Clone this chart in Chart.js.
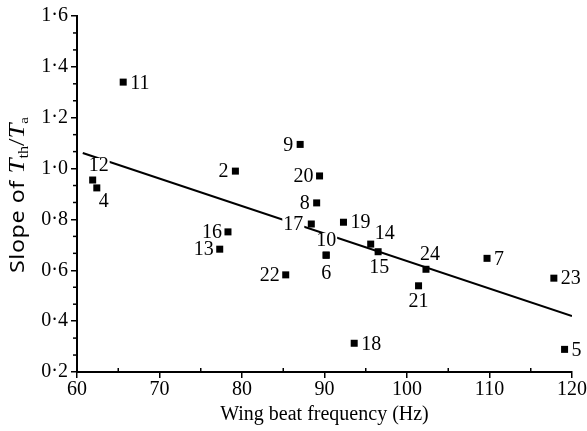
<!DOCTYPE html>
<html lang="en">
<head>
  <meta charset="UTF-8">
  <title>Slope of Tth/Ta vs wing beat frequency</title>
  <script src="https://cdn.jsdelivr.net/npm/chart.js"></script>
  <style>
    body { margin: 0; background: #fff; }
    #wrap { width: 587px; height: 431px; }
  </style>
</head>
<body>
  <div id="wrap"><canvas id="chart"></canvas></div>

  <script>
    // species numbers, wing beat frequency (Hz), slope of Tth/Ta
    const ids   = ['2', '4', '5', '6', '7', '8', '9', '10', '11', '12', '13', '14', '15', '16', '17', '18', '19', '20', '21', '22', '23', '24'];
    const freq  = [79.2, 62.4, 119.1, 90.2, 109.7, 89.05, 87.05, 90.2, 65.6, 61.9, 77.3, 95.6, 96.5, 78.3, 88.4, 93.6, 92.3, 89.4, 101.4, 85.3, 117.8, 102.3];
    const slope = [0.99, 0.924, 0.289, 0.659, 0.647, 0.865, 1.095, 0.66, 1.34, 0.955, 0.683, 0.703, 0.673, 0.751, 0.782, 0.313, 0.789, 0.971, 0.539, 0.582, 0.569, 0.604];

    // regression line end points
    const fitX = [60.7, 120];
    const fitY = [1.061, 0.42];

    const xTicks = [60, 70, 80, 90, 100, 110, 120];
    const yTicks = [0.2, 0.4, 0.6, 0.8, 1.0, 1.2, 1.4, 1.6];

    const FONT = '"Liberation Serif", "DejaVu Serif", serif';

    // where each number sits relative to its point
    const labelPlace = {
      '2': [-7, 0, 'right'], '4': [7, 13, 'center'], '5': [7, 0, 'left'],
      '6': [0, 17, 'center'], '7': [7, 0, 'left'], '8': [-7, 0, 'right'],
      '9': [-7, 0, 'right'], '10': [0, -15, 'center'], '11': [7, 1, 'left'],
      '12': [6, -15, 'center'], '13': [-6, 0, 'right'], '14': [14, -11, 'center'],
      '15': [1, 15, 'center'], '16': [-6, 0, 'right'], '17': [-8, 0, 'right'],
      '18': [7, 0, 'left'], '19': [7, 0, 'left'], '20': [-6, 0, 'right'],
      '21': [0, 15, 'center'], '22': [-6, 0, 'right'], '23': [7, 0, 'left'],
      '24': [4, -16, 'center']
    };

    const pointLabels = {
      id: 'pointLabels',
      afterDatasetsDraw(chart) {
        const ctx = chart.ctx;
        const meta = chart.getDatasetMeta(0);
        ctx.save();
        ctx.font = '20px ' + FONT;
        ctx.textBaseline = 'middle';
        meta.data.forEach((pt, i) => {
          const [dx, dy, align] = labelPlace[ids[i]];
          const w = ctx.measureText(ids[i]).width;
          let x0 = pt.x + dx;
          if (align === 'center') x0 -= w / 2;
          if (align === 'right') x0 -= w;
          ctx.fillStyle = '#fff';
          ctx.fillRect(x0 - 1, pt.y + dy - 7, w + 2, 14);
          ctx.fillStyle = '#000';
          ctx.textAlign = 'left';
          ctx.fillText(ids[i], x0, pt.y + dy + 1);
        });
        // redraw points on top of any label box
        ctx.fillStyle = '#000';
        meta.data.forEach(pt => ctx.fillRect(pt.x - 3.5, pt.y - 3.5, 7, 7));
        ctx.restore();
      }
    };

    const extras = {
      id: 'extras',
      afterDraw(chart) {
        const ctx = chart.ctx;
        const xs = chart.scales.x, ys = chart.scales.y;
        const area = chart.chartArea;
        ctx.save();
        ctx.strokeStyle = '#000';
        ctx.lineWidth = 1.5;
        // minor ticks
        for (let k = 0; k < 21; k++) {
          if (k % 3 === 0) continue;
          const py = ys.getPixelForValue(0.2 + k * 0.2 / 3);
          ctx.beginPath();
          ctx.moveTo(area.left - 4, py);
          ctx.lineTo(area.left, py);
          ctx.stroke();
        }
        for (let v = 65; v < 120; v += 10) {
          const px = xs.getPixelForValue(v);
          ctx.beginPath();
          ctx.moveTo(px, area.bottom);
          ctx.lineTo(px, area.bottom - 4);
          ctx.stroke();
        }
        // y axis title with italic T and subscripts
        ctx.translate(17, 195);
        ctx.rotate(-Math.PI / 2);
        ctx.fillStyle = '#000';
        ctx.textBaseline = 'alphabetic';
        const parts = [
          ['Slope of ', '20px "Noto Sans", sans-serif', 0, '0.5px'],
          ['T', 'italic 23px ' + FONT, 0, '0px'],
          ['th', '14px ' + FONT, 4, '0px'],
          ['/', '23px ' + FONT, 0, '0px'],
          ['T', 'italic 23px ' + FONT, 0, '0px'],
          ['a', '13px ' + FONT, 4, '0px']
        ];
        let total = 0;
        parts.forEach(p => { ctx.font = p[1]; ctx.letterSpacing = p[3]; total += ctx.measureText(p[0]).width; });
        const target = 156;
        ctx.scale(target / total, 1);
        let x = -total / 2;
        parts.forEach(p => {
          ctx.font = p[1];
          ctx.letterSpacing = p[3];
          ctx.fillText(p[0], x, 7 + p[2]);
          x += ctx.measureText(p[0]).width;
        });
        ctx.restore();
      }
    };

    new Chart(document.getElementById('chart'), {
      type: 'scatter',
      data: {
        datasets: [
          {
            data: freq.map((f, i) => ({ x: f, y: slope[i] })),
            pointStyle: 'rect',
            pointRadius: 3.5,
            backgroundColor: '#000',
            borderColor: '#000',
            borderWidth: 0
          },
          {
            type: 'line',
            data: fitX.map((f, i) => ({ x: f, y: fitY[i] })),
            borderColor: '#000',
            borderWidth: 2,
            pointRadius: 0,
            fill: false
          }
        ]
      },
      options: {
        responsive: true,
        maintainAspectRatio: false,
        animation: false,
        layout: { padding: { top: 16, right: 14, left: 0, bottom: 0 } },
        plugins: {
          legend: { display: false },
          tooltip: { enabled: false }
        },
        scales: {
          x: {
            type: 'linear',
            min: 60,
            max: 120,
            afterBuildTicks: s => { s.ticks = xTicks.map(v => ({ value: v })); },
            afterFit: s => { s.height = 59; },
            ticks: {
              color: '#000',
              font: { family: FONT, size: 20 },
              padding: 0,
              maxRotation: 0
            },
            grid: { drawOnChartArea: false, color: '#000', tickLength: 6, lineWidth: 1.5 },
            border: { color: '#000', width: 2 },
            title: {
              display: true,
              text: 'Wing beat frequency (Hz)',
              color: '#000',
              font: { family: FONT, size: 20 },
              padding: { top: 0, bottom: 4 }
            }
          },
          y: {
            min: 0.2,
            max: 1.6,
            afterBuildTicks: s => { s.ticks = yTicks.map(v => ({ value: v })); },
            afterFit: s => { s.width = 77; },
            ticks: {
              color: '#000',
              font: { family: FONT, size: 20 },
              padding: 3,
              callback: v => v.toFixed(1).replace('.', '·')
            },
            grid: { drawOnChartArea: false, color: '#000', tickLength: 6, lineWidth: 1.5 },
            border: { color: '#000', width: 2 }
          }
        }
      },
      plugins: [pointLabels, extras]
    });
  </script>
</body>
</html>
